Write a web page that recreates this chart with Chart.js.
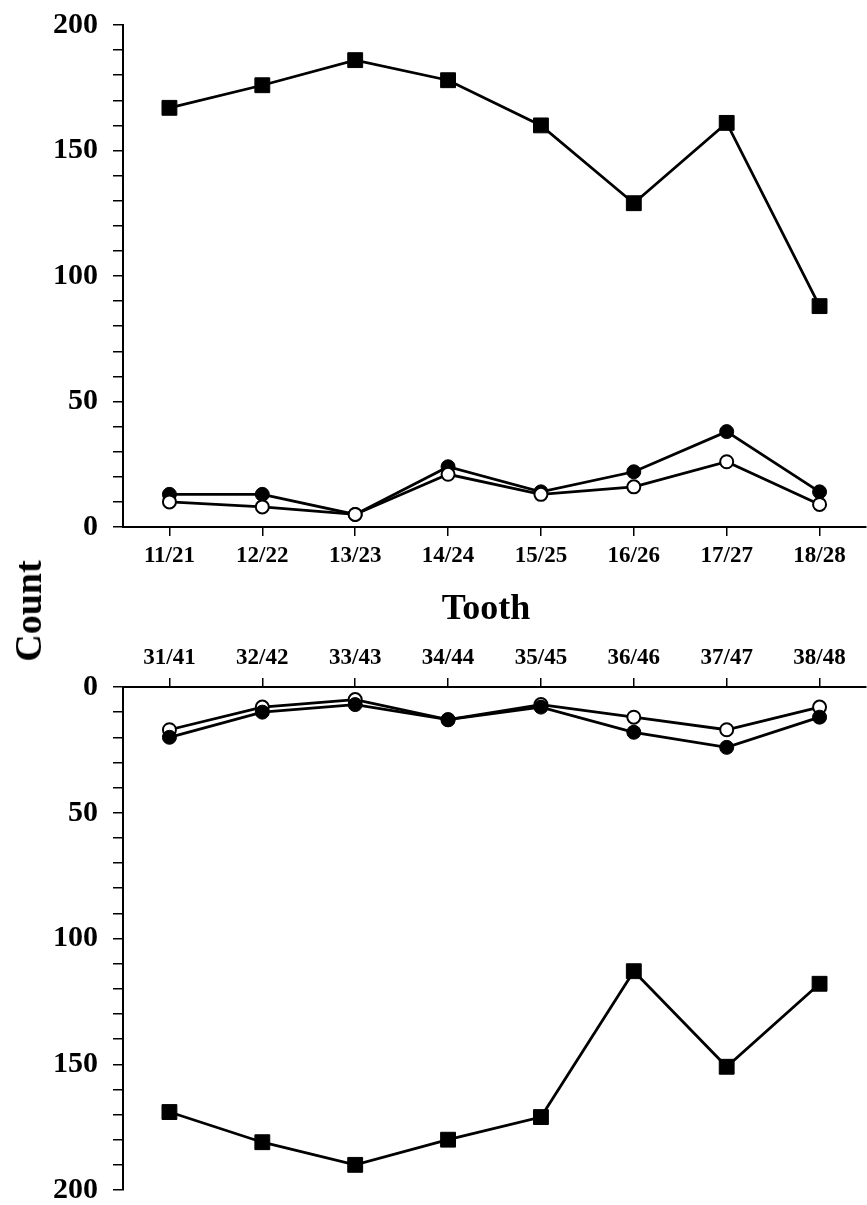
<!DOCTYPE html>
<html>
<head>
<meta charset="utf-8">
<script src="https://cdn.jsdelivr.net/npm/chart.js@4.4.1/dist/chart.umd.min.js"></script>
<style>
html,body{margin:0;padding:0;background:#fff;}
#wrap{position:relative;width:867px;height:1205px;overflow:hidden;background:#fff;}
canvas{position:absolute;left:0;}
#c1{top:0;}
#c2{top:600px;}
.t{position:absolute;font-family:"Liberation Serif","Times New Roman",serif;font-weight:bold;color:#000;white-space:nowrap;line-height:1;}
#tooth{left:486px;top:607px;font-size:36px;transform:translate(-50%,-50%);}
#count{left:28px;top:611px;font-size:38px;transform:translate(-50%,-50%) rotate(-90deg);}
</style>
</head>
<body>
<div id="wrap">
<canvas id="c1" width="867" height="580"></canvas>
<canvas id="c2" width="867" height="605"></canvas>
<div class="t" id="tooth">Tooth</div>
<div class="t" id="count">Count</div>
</div>
<script>
// Categories
const teethUpper = ['11/21','12/22','13/23','14/24','15/25','16/26','17/27','18/28'];
const teethLower = ['31/41','32/42','33/43','34/44','35/45','36/46','37/47','38/48'];
// Upper jaw series
const upperSquare = [167,176,186,178,160,129,161,88];
const upperFilled = [13,13,5,24,14,22,38,14];
const upperOpen   = [10,8,5,21,13,16,26,9];
// Lower jaw series
const lowerSquare = [169,181,190,180,171,113,151,118];
const lowerFilled = [20,10,7,13,8,18,24,12];
const lowerOpen   = [17,8,5,13,7,12,17,8];
// Axis range
const yMin = 0, yMax = 200, yStep = 10, yLabelEvery = 50;

const FONT = '"Liberation Serif","Times New Roman",serif';

function squareSet(data){
  return {data, borderColor:'#000', borderWidth:2.8, pointStyle:'rect', pointRadius:10.5,
    pointBackgroundColor:'#000', pointBorderColor:'#000', pointBorderWidth:1, tension:0};
}
function filledSet(data){
  return {data, borderColor:'#000', borderWidth:2.8, pointStyle:'circle', pointRadius:7,
    pointBackgroundColor:'#000', pointBorderColor:'#000', pointBorderWidth:1, tension:0};
}
function openSet(data){
  return {data, borderColor:'#000', borderWidth:2.8, pointStyle:'circle', pointRadius:6.5,
    pointBackgroundColor:'#fff', pointBorderColor:'#000', pointBorderWidth:2, tension:0};
}

function makeOptions(isTop){
  return {
    responsive:false, animation:false, devicePixelRatio:1,
    layout:{autoPadding:false, padding: isTop ? {top:25,left:0,right:1,bottom:0} : {top:0,left:0,right:1,bottom:15}},
    plugins:{legend:{display:false}, tooltip:{enabled:false}},
    scales:{
      x:{
        position: isTop ? 'bottom' : 'top',
        offset:true,
        grid:{drawOnChartArea:false, drawTicks:true, tickLength:9, color:'#000', lineWidth:1.5},
        border:{display:true, color:'#000', width:2},
        ticks:{color:'#000', font:{family:FONT, size:23, weight:'bold'}, padding:6, maxRotation:0, autoSkip:false},
        afterFit(s){ s.height = isTop ? 53 : 87; s.paddingLeft = 0; s.paddingRight = 0; }
      },
      y:{
        min:yMin, max:yMax, reverse:!isTop,
        grid:{drawOnChartArea:false, drawTicks:true, tickLength:10, color:'#000', lineWidth:1.5},
        border:{display:true, color:'#000', width:2},
        ticks:{stepSize:yStep, autoSkip:false, color:'#000', font:{family:FONT, size:30, weight:'bold'}, padding:15,
          callback:(v)=> (v % yLabelEvery === 0 ? String(v) : '')},
        afterFit(s){ s.width = 123; s.paddingTop = 0; s.paddingBottom = 0; }
      }
    }
  };
}

new Chart(document.getElementById('c1'), {
  type:'line',
  data:{labels:teethUpper, datasets:[openSet(upperOpen), filledSet(upperFilled), squareSet(upperSquare)]},
  options:makeOptions(true)
});
new Chart(document.getElementById('c2'), {
  type:'line',
  data:{labels:teethLower, datasets:[filledSet(lowerFilled), openSet(lowerOpen), squareSet(lowerSquare)]},
  options:makeOptions(false)
});
</script>
</body>
</html>
